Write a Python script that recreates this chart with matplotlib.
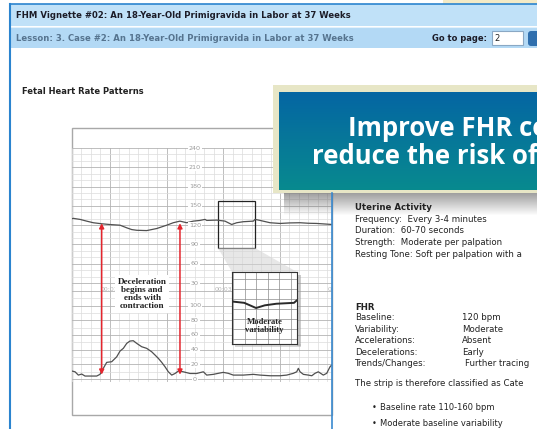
import numpy as np
import matplotlib
matplotlib.use('Agg')
import matplotlib.pyplot as plt
from matplotlib.patches import Rectangle, Polygon, FancyBboxPatch, ConnectionPatch
from matplotlib.ticker import MultipleLocator

W, H = 537, 429

# FHR trace: time (s) and beats per minute
fhr_t = [20, 21.4, 28.5, 35.5, 42.5, 51.4, 60.2, 70.8, 77.9, 83.1, 88.4, 99, 109.6,
         120.2, 127.1, 134.2, 141.3, 148.3, 155.4, 160.7, 162.5, 173.1, 181.8, 188.9,
         194.2, 201.2, 211.8, 213.6, 218.9, 229.5, 240, 250, 261.2, 270, 278.8, 295]
fhr_bpm = [130, 130.6, 129, 126.3, 123.8, 122.2, 121, 120, 115.9, 113.2, 112.1, 111.6, 114.8,
           120, 123.8, 126.3, 123.8, 126.3, 127.4, 129, 127.4, 127.9, 126.3, 121.1,
           123.8, 125.4, 126.3, 129, 127.4, 123.8, 122.7, 123.5, 123.8, 123, 122.7, 121.1]

# uterine activity trace: time (s) and mmHg
ua_t = [20, 23.2, 26.7, 30.3, 33.8, 39, 46.1, 49.6, 53.1, 56.7, 62, 67.3, 70.8, 74.3,
        77.9, 81.3, 84.8, 88.4, 93.7, 99, 104.3, 107.8, 111.3, 114.9, 118.4, 121.9,
        125.5, 129, 132.5, 137.7, 144.8, 151.9, 158.9, 162.5, 169.5, 174.7, 180, 185.3,
        190.6, 201.2, 211.8, 218.9, 229.5, 240, 247.1, 254.1, 257.7, 259.4, 261.2, 264.7,
        270, 273.6, 277, 280.5, 285.8, 289.4, 292.9, 296.4]
ua_val = [10.9, 9.9, 5.4, 6.8, 4.1, 4.1, 4.1, 6.4, 14.6, 22.7, 23.6, 30.3, 38.1, 41.8,
          48.6, 51.7, 52.2, 48.6, 44, 41.8, 37.1, 32.7, 28.2, 22.7, 16.7, 9.9,
          5.4, 7.6, 10.9, 9.9, 7.6, 7.6, 9.9, 5.4, 6.4, 7.8, 9.1, 7.8,
          5.4, 5.4, 6.4, 5.4, 4.5, 4.5, 5.4, 7.8, 9.9, 14.6, 9.9, 6.4,
          5.4, 4.5, 7.8, 9.9, 5.4, 7.8, 16.7, 21.4]

fhr_labels = [240, 210, 180, 150, 120, 90, 60, 30]
ua_labels = [100, 80, 60, 40, 20, 0]
time_ticks = [60, 180, 300]
time_labels = ['00:01', '00:03', '00:05']
arrow_times = [51.4, 134.2]

header1 = 'FHM Vignette #02: An 18-Year-Old Primigravida in Labor at 37 Weeks'
header2 = 'Lesson: 3. Case #2: An 18-Year-Old Primigravida in Labor at 37 Weeks'

ua_lines = ['Frequency:  Every 3-4 minutes', 'Duration:  60-70 seconds',
            'Strength:  Moderate per palpation', 'Resting Tone: Soft per palpation with a']
fhr_keys = ['Baseline:', 'Variability:', 'Accelerations:', 'Decelerations:', 'Trends/Changes:']
fhr_vals = ['120 bpm', 'Moderate', 'Absent', 'Early', 'Further tracing']
bullets = ['Baseline rate 110-160 bpm', 'Moderate baseline variability']


def box(x0, y0, x1, y1):
    return [x0 / W, 1 - y1 / H, (x1 - x0) / W, (y1 - y0) / H]


fig = plt.figure(figsize=(W / 100, H / 100), dpi=100, facecolor='white')

# ---- page background ----
bg = fig.add_axes([0, 0, 1, 1], zorder=0)
bg.set_xlim(0, W); bg.set_ylim(H, 0); bg.axis('off')
bg.add_patch(Rectangle((443, 0), 100, 4, color='#f3eac6', lw=0))
bg.add_patch(Rectangle((10, 4), 530, 22, color='#c0e1f8', lw=0))
bg.add_patch(Rectangle((10, 27), 530, 21, color='#b3d9f5', lw=0))
bg.plot([10, 537], [4, 4], color='#2b84cf', lw=1.2)
bg.plot([10, 537], [26.5, 26.5], color='#e2f1fc', lw=0.8)
bg.plot([10, 10], [4, 429], color='#2b84cf', lw=1.5)
bg.text(16, 16, header1, fontsize=6.1, fontweight='bold', color='#1c1c28', va='center')
bg.text(16, 38.5, header2, fontsize=6.1, fontweight='bold', color='#56748f', va='center')
bg.text(432, 38.5, 'Go to page:', fontsize=6.0, fontweight='bold', color='#1c1c28', va='center')
bg.add_patch(Rectangle((492, 31), 31, 14, facecolor='white', edgecolor='#8aa8c4', lw=0.8))
bg.text(494, 38.5, '2', fontsize=6.0, color='#222', va='center')
bg.add_patch(FancyBboxPatch((528, 31), 14, 15, boxstyle='round,pad=0,rounding_size=3',
                            facecolor='#2f6fae', edgecolor='none'))
bg.text(22, 92, 'Fetal Heart Rate Patterns', fontsize=6.0, fontweight='bold', color='#222',
        va='center')
# chart frame
bg.add_patch(Rectangle((72, 128), 260, 287, facecolor='white', edgecolor='#a8a8a8', lw=1))

# ---- tracing axes ----
ax_up = fig.add_axes(box(72, 148, 332, 285), zorder=1)
ax_lo = fig.add_axes(box(72, 285, 332, 382), zorder=1)
ax_up.set_ylim(27, 240)
ax_lo.set_ylim(-4, 128)
for ax, ymaj in ((ax_up, 30), (ax_lo, 20)):
    ax.set_xlim(20, 295)
    ax.xaxis.set_major_locator(MultipleLocator(60))
    ax.xaxis.set_minor_locator(MultipleLocator(10))
    ax.yaxis.set_major_locator(MultipleLocator(ymaj))
    ax.yaxis.set_minor_locator(MultipleLocator(10))
    ax.grid(which='major', color='#b3b3b3', lw=0.6)
    ax.grid(which='minor', color='#dcdcdc', lw=0.5)
    ax.tick_params(which='both', length=0, labelbottom=False, labelleft=False)
    for s in ax.spines.values():
        s.set_visible(False)
    ax.set_axisbelow(True)
    ax.patch.set_alpha(0)

for v in fhr_labels:
    ax_up.text(150, v, str(v), fontsize=4.6, color='#9a9a9a', ha='center', va='center',
               bbox=dict(facecolor='white', edgecolor='none', pad=0.6))
for v in ua_labels:
    ax_lo.text(150, v, str(v), fontsize=4.6, color='#9a9a9a', ha='center', va='center',
               bbox=dict(facecolor='white', edgecolor='none', pad=0.6))
for t, lab in zip(time_ticks, time_labels):
    ax_lo.text(t, 122, lab, fontsize=4.4, color='#b8b8b8', ha='center', va='center',
               clip_on=True)

ax_up.plot(fhr_t, fhr_bpm, color='#505050', lw=0.9)
ax_lo.plot(ua_t, ua_val, color='#505050', lw=0.9)
ax_up.add_patch(Rectangle((174.4, 84.8), 39.2, 72.6, fill=False, edgecolor='#222', lw=0.9))

for t in arrow_times:
    con = ConnectionPatch(xyA=(t, 123), coordsA=ax_up.transData,
                          xyB=(t, 6), coordsB=ax_lo.transData,
                          arrowstyle='<|-|>', color='#e3262e', lw=1.1,
                          mutation_scale=7, shrinkA=0, shrinkB=0, zorder=2)
    fig.add_artist(con)

# ---- overlay: annotations, banner, right pane ----
ov = fig.add_axes([0, 0, 1, 1], zorder=3)
ov.axis('off')

ov.text(142, 294, 'Deceleration\nbegins and\nends with\ncontraction', family='Liberation Serif',
        fontweight='bold', fontsize=6.6, ha='center', va='center', linespacing=1.05,
        color='#222', bbox=dict(facecolor='white', edgecolor='none', pad=1.5))

# magnifier funnel + inset shadow
ov.add_patch(Polygon([(218, 248), (255, 248), (297, 272), (232, 272)],
                     facecolor='#d4d4d4', alpha=0.55, edgecolor='none'))
ov.add_patch(Rectangle((297, 275), 4, 71, facecolor='#9a9a9a', alpha=0.5, lw=0))
ov.add_patch(Rectangle((235, 344), 66, 3, facecolor='#b0b0b0', alpha=0.5, lw=0))

# banner shadow
sh = np.zeros((24, 2, 4))
sh[..., :3] = 0.35
sh[..., 3] = np.linspace(0.6, 0, 24)[:, None]
ov.imshow(sh, extent=(284, 537, 216, 192), aspect='auto', interpolation='bilinear', zorder=1)
# banner
ov.add_patch(Rectangle((273, 85), 270, 108, facecolor='#e7e6c6', edgecolor='none', zorder=2))
top = np.array([0.02, 0.40, 0.64])
bot = np.array([0.03, 0.54, 0.56])
grad = top[None, None, :] * (1 - np.linspace(0, 1, 50))[:, None, None] + \
    bot[None, None, :] * np.linspace(0, 1, 50)[:, None, None]
grad = np.repeat(grad, 2, axis=1)
ov.imshow(grad, extent=(279, 537, 190, 92), aspect='auto', interpolation='bilinear', zorder=3)
ov.text(348, 128, 'Improve FHR co', family='Open Sans', fontweight='bold', fontsize=18.5,
        color='white', va='center', zorder=4)
ov.text(312, 157, 'reduce the risk of', family='Open Sans', fontweight='bold', fontsize=18.5,
        color='white', va='center', zorder=4)

# right pane
ov.plot([332, 332], [193, 429], color='#3a8ad0', lw=1.2)
ov.text(355, 207, 'Uterine Activity', fontsize=6.2, fontweight='bold', color='#222', va='center')
for i, s in enumerate(ua_lines):
    ov.text(355, 219 + 11.7 * i, s, fontsize=6.2, color='#222', va='center')
ov.text(355, 307, 'FHR', fontsize=6.2, fontweight='bold', color='#222', va='center')
for i, (k, v) in enumerate(zip(fhr_keys, fhr_vals)):
    ov.text(355, 318 + 11.4 * i, k, fontsize=6.2, color='#222', va='center')
    ov.text(462 if i < 4 else 465, 318 + 11.4 * i, v, fontsize=6.2, color='#222', va='center')
ov.text(355, 383, 'The strip is therefore classified as Cate', fontsize=6.2, color='#222',
        va='center')
for i, s in enumerate(bullets):
    ov.text(372, 408 + 15 * i, '\u2022', fontsize=6.0, color='#222', va='center')
    ov.text(380, 408 + 15 * i, s, fontsize=6.0, color='#222', va='center')

ov.set_xlim(0, W); ov.set_ylim(H, 0)

# ---- magnified inset ----
ax_in = fig.add_axes(box(232, 272, 297, 344), zorder=4)
ax_in.set_xlim(174.4, 213.6)
ax_in.set_ylim(84.8, 157.4)
ax_in.xaxis.set_major_locator(MultipleLocator(7))
ax_in.yaxis.set_major_locator(MultipleLocator(10))
ax_in.grid(color='#8c8c8c', lw=0.5)
ax_in.tick_params(length=0, labelbottom=False, labelleft=False)
for s in ax_in.spines.values():
    s.set_color('#333'); s.set_linewidth(0.8)
ax_in.plot(fhr_t, fhr_bpm, color='#2a2a2a', lw=1.4)
ax_in.text(0.5, 0.25, 'Moderate\nvariability', transform=ax_in.transAxes,
           family='Liberation Serif', fontweight='bold', fontsize=6.2, ha='center',
           va='center', linespacing=1.0, color='#222')

fig.savefig('out.png', dpi=100)
